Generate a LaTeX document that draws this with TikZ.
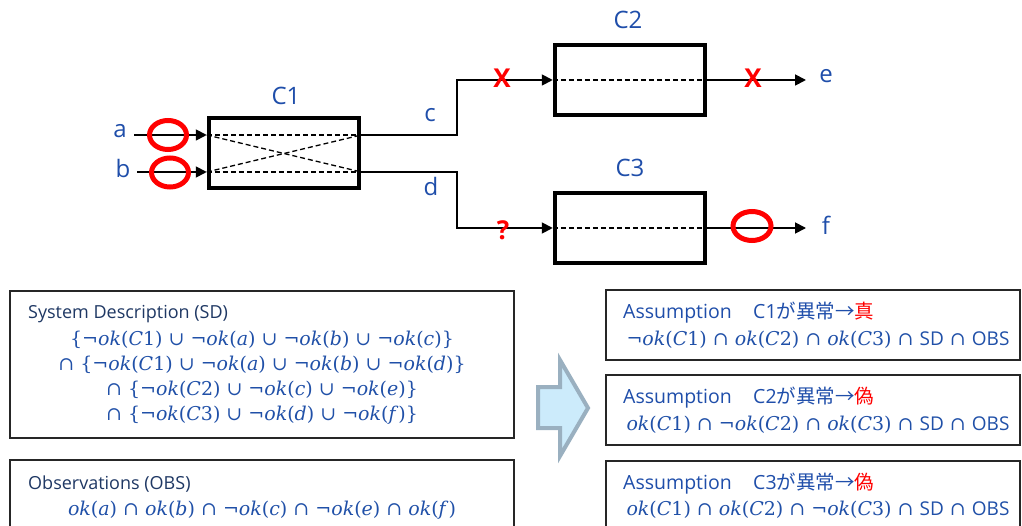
\documentclass[tikz,border=0pt]{standalone}
\usepackage[no-math]{fontspec}
\setmainfont{Open Sans}
\newfontfamily\cjk{Noto Sans CJK JP}
\newfontfamily\mf{DejaVu Serif}
\newcommand\ok{\textit{ok}}
\newcommand\vi[1]{\textit{#1}}
\usetikzlibrary{arrows.meta}
\definecolor{navy}{HTML}{1F3864}
\definecolor{mblue}{HTML}{2050A8}
\definecolor{lblue}{HTML}{1F4EAA}
\definecolor{ared}{HTML}{FF0000}
\definecolor{afill}{HTML}{CCEBFB}
\definecolor{aedge}{HTML}{9AB0C0}
\tikzset{
  comp/.style={draw=black, line width=4.5pt, minimum width=150pt, minimum height=70pt, inner sep=0pt},
  wire/.style={draw=black, line width=1.8pt},
  tipd/.style={-{Triangle[length=11pt,width=11pt]}},
  inner/.style={draw=black, line width=1.3pt, dash pattern=on 5pt off 3pt},
  lab/.style={text=lblue, font=\fontsize{24}{28}\selectfont, inner sep=0pt},
  redmark/.style={text=ared, font=\fontsize{26}{30}\selectfont\bfseries, inner sep=0pt},
  ring/.style={draw=ared, line width=5pt},
  tbox/.style={draw=black!85, line width=1.8pt},
  ttl/.style={text=navy, font=\fontsize{18}{22}\selectfont, inner sep=0pt, anchor=west},
  ttlb/.style={text=lblue, font=\fontsize{19.5}{22}\selectfont, inner sep=0pt, anchor=west},
  mth/.style={text=mblue, font=\fontsize{19}{22}\selectfont\mf, inner sep=0pt},
}
\begin{document}
\begin{tikzpicture}[x=1pt,y=-1pt]
\clip (0,0) rectangle (1022,526);
\fill[white] (0,0) rectangle (1022,526);

% components
\node[comp] (C1) at (284,153) {};
\node[comp] (C2) at (630,80) {};
\node[comp] (C3) at (630,228) {};
\node[lab] (C1l) at (286,96) {C1};
\node[lab] (C2l) at (628,20) {C2};
\node[lab] (C3l) at (630,168) {C3};

% inputs
\coordinate (ain) at (134,135);
\coordinate (bin) at (137,172);
\node[lab] (al) at (120,131) {a};
\node[lab] (bl) at (123,169) {b};
\draw[wire,tipd] (ain) -- (C1.west |- ain);
\draw[wire,tipd] (bin) -- (C1.west |- bin);

% internal dashed
\draw[inner] (C1.west |- ain) -- (C1.east |- ain);
\draw[inner] (C1.west |- bin) -- (C1.east |- bin);
\draw[inner] (C1.west |- ain) -- (C1.east |- bin);
\draw[inner] (C1.west |- bin) -- (C1.east |- ain);
\draw[inner] (C2.west) -- (C2.east);
\draw[inner] (C3.west) -- (C3.east);

% outputs of C1
\coordinate (jn) at (457,0);
\draw[wire,tipd] (C1.east |- ain) -- (jn |- ain) -- (jn |- C2.west) -- (C2.west);
\draw[wire,tipd] (C1.east |- bin) -- (jn |- bin) -- (jn |- C3.west) -- (C3.west);
\node[lab] (cl) at (430,115) {c};
\node[lab] (dl) at (431,187) {d};

% outputs e, f
\coordinate (eo) at (806,80);
\coordinate (fo) at (806,228);
\draw[wire,tipd] (C2.east) -- (eo);
\draw[wire,tipd] (C3.east) -- (fo);
\node[lab] (el) at (826,76) {e};
\node[lab] (fl) at (826,225) {f};

% marks
\node[redmark] (x1) at (502,78) {X};
\node[redmark] (x2) at (753,78) {X};
\node[redmark] (q1) at (503,230) {?};
\draw[ring] (168,135) ellipse [x radius=18.5pt, y radius=14.5pt];
\draw[ring] (170,172.5) ellipse [x radius=18.5pt, y radius=14.5pt];
\draw[ring] (752,226) ellipse [x radius=19pt, y radius=14.5pt];

% SD box
\node[tbox, minimum width=504pt, minimum height=147pt, inner sep=0pt] (sd) at (262,364.5) {};
\node[ttl] (sdt) at (28,314) {System Description (SD)};
\node[mth] (sd1) at (262,340) {\{¬\ok(\vi{C}1) ∪ ¬\ok(\vi{a}) ∪ ¬\ok(\vi{b}) ∪ ¬\ok(\vi{c})\}};
\node[mth] (sd2) at (262,365) {∩ \{¬\ok(\vi{C}1) ∪ ¬\ok(\vi{a}) ∪ ¬\ok(\vi{b}) ∪ ¬\ok(\vi{d})\}};
\node[mth] (sd3) at (262,390) {∩ \{¬\ok(\vi{C}2) ∪ ¬\ok(\vi{c}) ∪ ¬\ok(\vi{e})\}};
\node[mth] (sd4) at (262,415) {∩ \{¬\ok(\vi{C}3) ∪ ¬\ok(\vi{d}) ∪ ¬\ok(\vi{f})\}};

% OBS box
\node[tbox, minimum width=504pt, minimum height=100pt, inner sep=0pt] (obs) at (262,510) {};
\node[ttl] (obst) at (28,484) {Observations (OBS)};
\node[mth] (obs1) at (262,510) {\ok(\vi{a}) ∩ \ok(\vi{b}) ∩ ¬\ok(\vi{c}) ∩ ¬\ok(\vi{e}) ∩ \ok(\vi{f})};

% big arrow
\draw[fill=afill, draw=aedge, line width=4pt, line join=miter]
  (538,387) -- (560,387) -- (560,360) -- (588,408) -- (560,456) -- (560,428) -- (538,428) -- cycle;

% assumption boxes
\node[tbox, minimum width=414pt, minimum height=70pt, inner sep=0pt] (as1) at (813,325) {};
\node[tbox, minimum width=414pt, minimum height=70pt, inner sep=0pt] (as2) at (813,410) {};
\node[tbox, minimum width=414pt, minimum height=90pt, inner sep=0pt] (as3) at (813,506) {};
\node[ttlb] (a1t) at (623,313) {Assumption\hspace{1.1em}C1{\cjk が異常→}{\cjk\color{ared}真}};
\node[ttlb] (a2t) at (623,398) {Assumption\hspace{1.1em}C2{\cjk が異常→}{\cjk\color{ared}偽}};
\node[ttlb] (a3t) at (623,484) {Assumption\hspace{1.1em}C3{\cjk が異常→}{\cjk\color{ared}偽}};
\node[mth] (a1m) at (818,340) {¬\ok(\vi{C}1) ∩ \ok(\vi{C}2) ∩ \ok(\vi{C}3) ∩ {\normalfont SD} ∩ {\normalfont OBS}};
\node[mth] (a2m) at (818,425) {\ok(\vi{C}1) ∩ ¬\ok(\vi{C}2) ∩ \ok(\vi{C}3) ∩ {\normalfont SD} ∩ {\normalfont OBS}};
\node[mth] (a3m) at (818,510) {\ok(\vi{C}1) ∩ \ok(\vi{C}2) ∩ ¬\ok(\vi{C}3) ∩ {\normalfont SD} ∩ {\normalfont OBS}};
\end{tikzpicture}
\end{document}
